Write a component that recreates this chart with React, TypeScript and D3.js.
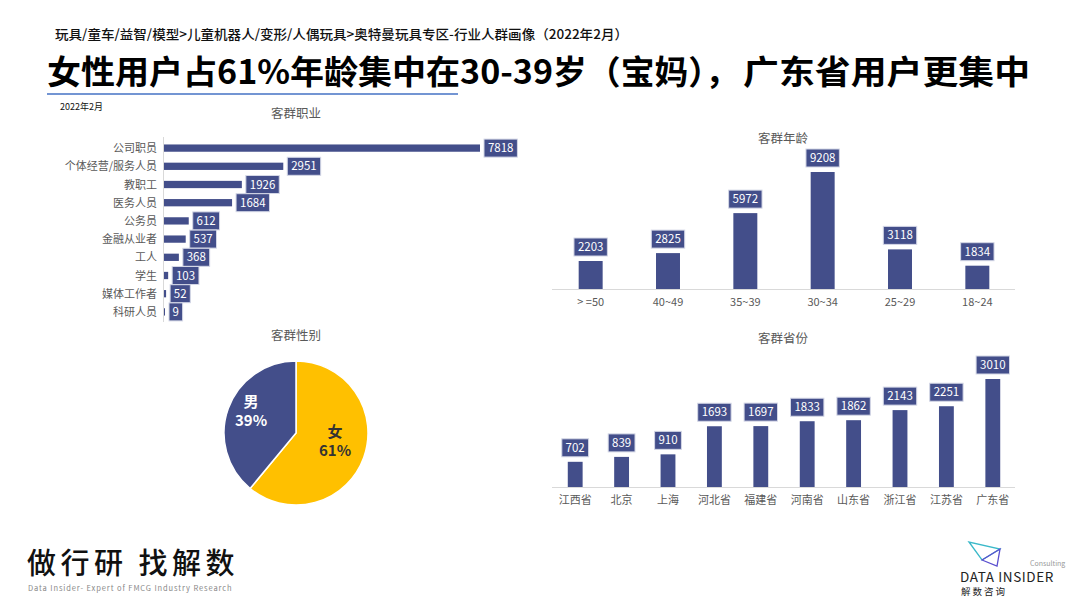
import * as d3 from "d3";

const occupations = ["公司职员", "个体经营/服务人员", "教职工", "医务人员", "公务员", "金融从业者", "工人", "学生", "媒体工作者", "科研人员"];
const occupationValues = [7818, 2951, 1926, 1684, 612, 537, 368, 103, 52, 9];

const ages = [">=50", "40~49", "35~39", "30~34", "25~29", "18~24"];
const ageLabels = ["> =50", "40~49", "35~39", "30~34", "25~29", "18~24"];
const ageValues = [2203, 2825, 5972, 9208, 3118, 1834];

const provinces = ["江西省", "北京", "上海", "河北省", "福建省", "河南省", "山东省", "浙江省", "江苏省", "广东省"];
const provinceValues = [702, 839, 910, 1693, 1697, 1833, 1862, 2143, 2251, 3010];

const genders = ["女", "男"];
const genderValues = [61, 39];

const BAR = "#434E8A";
const YELLOW = "#FFC000";
const FONT = "'Noto Sans CJK SC', 'Noto Sans', sans-serif";

function boxW(text: string) {
  return text.length * 6.6 + 7;
}

function LabelBox({ x, y, text, anchor }: { x: number; y: number; text: string; anchor: "start" | "middle" }) {
  const w = boxW(text);
  const h = 18;
  const bx = anchor === "middle" ? x - w / 2 : x;
  return (
    <g>
      <rect x={bx} y={y - h / 2} width={w} height={h} fill={BAR} stroke="#D4D7E6" strokeWidth={1} />
      <text x={bx + w / 2} y={y + 4} textAnchor="middle" fill="#fff" fontSize={11.5}>
        {text}
      </text>
    </g>
  );
}

function OccupationChart() {
  const x0 = 164;
  const x = d3.scaleLinear().domain([0, 7818]).range([0, 316]);
  const y = d3.scaleBand().domain(occupations).range([139, 321]).paddingInner(0.6).paddingOuter(0.3);
  return (
    <g>
      <text x={296} y={118} textAnchor="middle" fontSize={12.5} fill="#595959">客群职业</text>
      <line x1={x0 - 0.5} x2={x0 - 0.5} y1={137} y2={322} stroke="#D9D9D9" />
      {occupations.map((c, i) => {
        const cy = (y(c) ?? 0) + y.bandwidth() / 2;
        const w = Math.max(1, x(occupationValues[i]));
        return (
          <g key={c}>
            <text x={157} y={cy + 4} textAnchor="end" fontSize={11} fill="#595959">{c}</text>
            <rect x={x0} y={y(c)} width={w} height={y.bandwidth()} fill={BAR} />
            <LabelBox x={x0 + w + 4} y={cy} text={String(occupationValues[i])} anchor="start" />
          </g>
        );
      })}
    </g>
  );
}

function ColumnChart({
  cats, labels, values, title, titleY, base, maxH, maxV, left, right, pad,
}: {
  cats: string[]; labels: string[]; values: number[]; title: string; titleY: number;
  base: number; maxH: number; maxV: number; left: number; right: number; pad: number;
}) {
  const x = d3.scaleBand().domain(cats).range([left, right]).paddingInner(pad).paddingOuter(pad / 2);
  const y = d3.scaleLinear().domain([0, maxV]).range([base, base - maxH]);
  return (
    <g>
      <text x={783} y={titleY} textAnchor="middle" fontSize={12.5} fill="#595959">{title}</text>
      <line x1={552} x2={1015} y1={base + 0.5} y2={base + 0.5} stroke="#D9D9D9" />
      {cats.map((c, i) => {
        const bx = x(c) ?? 0;
        const cx = bx + x.bandwidth() / 2;
        const top = y(values[i]);
        return (
          <g key={c}>
            <rect x={bx} y={top} width={x.bandwidth()} height={base - top} fill={BAR} />
            <LabelBox x={cx} y={top - 14} text={String(values[i])} anchor="middle" />
            <text x={cx} y={base + 17} textAnchor="middle" fontSize={11} fill="#595959">{labels[i]}</text>
          </g>
        );
      })}
    </g>
  );
}

function GenderPie() {
  const cx = 296, cy = 433, r = 72;
  const pie = d3.pie<number>().sort(null).value((d) => d);
  const arcs = pie(genderValues);
  const arc = d3.arc<d3.PieArcDatum<number>>().innerRadius(0).outerRadius(r);
  const colors = [YELLOW, BAR];
  const labelPos = [
    [39, 4],
    [-45, -26],
  ];
  return (
    <g>
      <text x={296} y={340} textAnchor="middle" fontSize={12.5} fill="#595959">客群性别</text>
      <g transform={`translate(${cx},${cy})`}>
        {arcs.map((a, i) => (
          <path key={genders[i]} d={arc(a) ?? ""} fill={colors[i]} stroke="#fff" strokeWidth={1.5} />
        ))}
        {arcs.map((a, i) => (
          <text key={"t" + i} x={labelPos[i][0]} y={labelPos[i][1]} textAnchor="middle" fontSize={15}
            fontWeight="bold" fill={i === 0 ? "#333" : "#fff"}>
            <tspan x={labelPos[i][0]} dy={0}>{genders[i]}</tspan>
            <tspan x={labelPos[i][0]} dy={19}>{genderValues[i]}%</tspan>
          </text>
        ))}
      </g>
    </g>
  );
}

export default function App() {
  return (
    <svg width={1080} height={608} style={{ position: "absolute", left: 0, top: 0, background: "#fff" }}
      fontFamily={FONT}>
      <rect width={1080} height={608} fill="#fff" />
      <text x={55} y={39} fontSize={13} fill="#111" fontWeight={500} textLength={573} lengthAdjust="spacingAndGlyphs">
        玩具/童车/益智/模型&gt;儿童机器人/变形/人偶玩具&gt;奥特曼玩具专区-行业人群画像（2022年2月）
      </text>
      <g fontSize={33} fontWeight="bold" fill="#000">
        <text x={47} y={84} textLength={506} lengthAdjust="spacingAndGlyphs">女性用户占61%年龄集中在30-39</text>
        <text x={553} y={84} textLength={186} lengthAdjust="spacingAndGlyphs">岁（宝妈），</text>
        <text x={743} y={84} textLength={287} lengthAdjust="spacingAndGlyphs">广东省用户更集中</text>
      </g>
      <line x1={47} x2={458} y1={94} y2={94} stroke="#4472C4" strokeWidth={1.5} />
      <text x={60} y={110} fontSize={9} fill="#111">2022年2月</text>

      <OccupationChart />
      <ColumnChart cats={ages} labels={ageLabels} values={ageValues} title="客群年龄" titleY={143}
        base={289} maxH={117} maxV={9208} left={552} right={1016} pad={0.69} />
      <ColumnChart cats={provinces} labels={provinces} values={provinceValues} title="客群省份" titleY={343}
        base={487} maxH={108} maxV={3010} left={552} right={1016} pad={0.68} />
      <GenderPie />

      <text x={27} y={574} fontSize={29} fill="#111" letterSpacing={4.5} fontWeight={500}>做行研 找解数</text>
      <text x={28} y={591} fontSize={7.5} fill="#888" letterSpacing={0.9}>
        Data Insider- Expert of FMCG Industry Research
      </text>

      <g>
        <path d="M969,542 L982,560 L1000,549 Z" fill="none" stroke="#3BB9C9" strokeWidth={1.3} />
        <path d="M982,560 L1000,549 L997,566 Z" fill="none" stroke="#5A4FCF" strokeWidth={1.3} />
        <text x={1030} y={566} fontSize={7} fill="#999">Consulting</text>
        <text x={960} y={582} fontSize={13.5} fill="#222" letterSpacing={0.6}>DATA INSIDER</text>
        <text x={961} y={595} fontSize={9.5} fill="#222" letterSpacing={2}>解数咨询</text>
      </g>
    </svg>
  );
}
